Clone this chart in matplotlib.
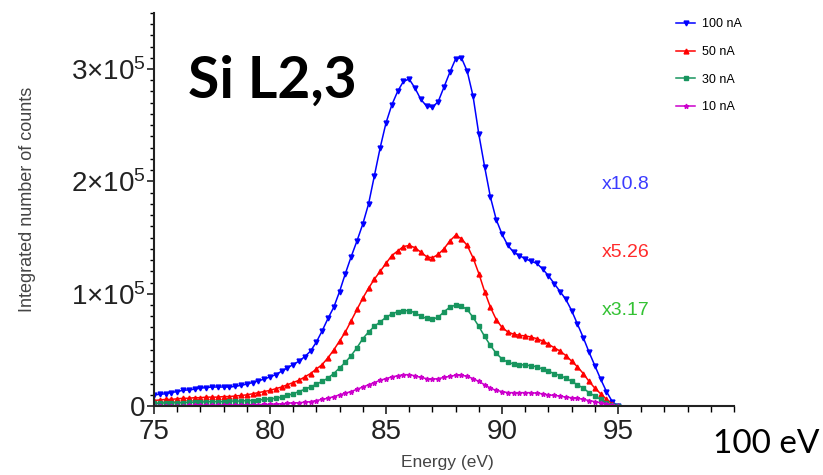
import numpy as np
import matplotlib
matplotlib.use('Agg')
import matplotlib.pyplot as plt
from matplotlib.ticker import MultipleLocator, FixedLocator

plt.rcParams['font.family'] = ['Liberation Sans', 'DejaVu Sans']
plt.rcParams['mathtext.fontset'] = 'custom'
plt.rcParams['mathtext.rm'] = 'Liberation Sans'
plt.rcParams['mathtext.it'] = 'Liberation Sans'

# energy grid, eV (0.25 eV steps)
energy = np.arange(75.0, 95.01, 0.25)

# integrated counts, in thousands
counts_100nA = [10, 10.5, 11, 12, 13, 14, 14.5, 15, 16, 16.5, 17, 17, 17, 17, 17.5, 18.5,
                19.5, 21, 22.5, 24, 26, 28, 31, 34, 37, 40, 44, 49, 57, 67, 78, 88,
                102, 118, 133, 147, 162, 180, 205, 230, 252, 268, 280, 289, 291, 283, 273, 267,
                266, 271, 284, 297, 309, 310, 298, 276, 242, 213, 186, 166, 153, 143, 137, 134,
                131, 129, 127, 122, 116, 109, 102, 95, 85, 73, 61, 48, 36, 24, 13, 4, 0]
counts_50nA = [5, 5.5, 6, 6, 6.5, 7, 7, 7.5, 7.5, 8, 8, 8, 8.5, 8.5, 9, 9.5,
               10, 11, 12, 13, 14, 15.5, 17, 19, 21, 23, 26, 29, 33, 37, 43, 50,
               58, 66, 76, 86, 96, 105, 113, 120, 127, 134, 138, 142, 143, 141, 137, 133,
               132, 135, 140, 147, 152, 149, 143, 132, 118, 102, 88, 77, 70, 66, 64, 63,
               62.5, 61.5, 60, 58, 55, 52, 49, 45, 40, 35, 29, 22, 16, 11, 6, 2, 0]
counts_30nA = [2.5, 2.5, 3, 3, 3, 3, 3.5, 3.5, 3.5, 4, 4, 4, 4, 4.5, 4.5, 4.5,
               5, 5, 5.5, 6, 6.5, 7, 8, 9.5, 11, 13, 15, 17, 19.5, 22, 25, 29,
               34, 39, 45, 52, 60, 66, 71, 75, 79, 82, 84, 85, 85, 83, 80, 78,
               77.5, 79, 84, 88, 90, 89, 86, 79, 71, 62, 54, 47, 42, 39, 37.5, 37,
               36.5, 36, 35, 33, 31, 29, 27, 25, 22, 19, 16, 12, 9, 6, 3, 1, 0]
counts_10nA = [0.5, 0.5, 0.5, 0.5, 0.5, 0.5, 0.6, 0.6, 0.7, 0.7, 0.8, 0.8, 0.9, 1, 1, 1.1,
               1.2, 1.3, 1.4, 1.5, 1.5, 2, 2, 2.5, 3, 3, 3.5, 4, 5, 6, 7, 8.5,
               10, 11.5, 13, 15, 17, 19, 21, 23, 24.5, 26, 27, 28, 28, 27, 25.5, 24.5,
               24, 24.5, 25.5, 26.5, 27.5, 27.5, 26.5, 24.5, 22, 19, 16, 14, 13, 12, 12, 12,
               12, 12, 11.5, 11, 10, 9.5, 9, 8, 7.5, 7, 6, 5, 4, 3, 2, 1, 0]

series = [
    ('100 nA', counts_100nA, '#0000ff', 'v'),
    ('50 nA', counts_50nA, '#ff0000', '^'),
    ('30 nA', counts_30nA, '#17955e', 's'),
    ('10 nA', counts_10nA, '#cc00cc', '*'),
]

factor_labels = ['x10.8', 'x5.26', 'x3.17']
factor_pos = [(94.3, 1.97e5), (94.3, 1.37e5), (94.3, 0.85e5)]
factor_colors = ['#3b3bff', '#ff2b2b', '#33c233']

fig = plt.figure(figsize=(8.23, 4.75), dpi=100)
ax = fig.add_axes([0.187, 0.145, 0.705, 0.828])

for label, vals, col, mk in series:
    ax.plot(energy, np.array(vals) * 1e3, '-', color=col, marker=mk, ms=3.5,
            lw=1.1, label=label)

ax.set_xlim(75, 100)
ax.set_ylim(0, 3.5e5)
ax.xaxis.set_major_locator(FixedLocator([75, 80, 85, 90, 95]))
ax.xaxis.set_minor_locator(MultipleLocator(1))
ax.yaxis.set_major_locator(FixedLocator([0, 1e5, 2e5, 3e5]))
ax.yaxis.set_minor_locator(MultipleLocator(1e4))
ax.set_yticklabels(['0', r'$\mathregular{1{\times}10^5}$', r'$\mathregular{2{\times}10^5}$',
                    r'$\mathregular{3{\times}10^5}$'])

for s in ['top', 'right']:
    ax.spines[s].set_visible(False)
for s in ['left', 'bottom']:
    ax.spines[s].set_linewidth(1.5)
    ax.spines[s].set_color('#222222')

ax.tick_params(axis='x', which='major', length=6, width=1.2, labelsize=20, pad=3, colors='#222222')
ax.tick_params(axis='x', which='minor', length=4, width=1)
ax.tick_params(axis='y', which='major', length=5, width=1.2, labelsize=20, pad=1, colors='#222222')
ax.tick_params(axis='y', which='minor', length=3, width=1)

# axis titles placed in figure coords
fig.text(0.543, 0.027, 'Energy (eV)', fontsize=12.5, color='#444444', ha='center', va='center')
fig.text(0.034, 0.581, 'Integrated number of counts', fontsize=13, color='#444444',
         rotation=90, ha='center', va='center')

for txt, (x, y), col in zip(factor_labels, factor_pos, factor_colors):
    ax.text(x, y, txt, color=col, fontsize=14, va='center', ha='left')

fig.text(0.228, 0.829, 'Si L2,3', fontsize=41, fontweight='bold', va='center', ha='left',
         family=['Lato', 'DejaVu Sans'])
fig.text(0.866, 0.065, '100 eV', fontsize=24, va='center', ha='left',
         family=['Lato', 'DejaVu Sans'])

leg = ax.legend(loc='upper left', bbox_to_anchor=(0.808, 0.985), bbox_transform=fig.transFigure,
                frameon=False, fontsize=9, labelspacing=1.25, handlelength=1.5,
                handletextpad=0.6, markerscale=1.0)

fig.savefig('out.png', dpi=100)
